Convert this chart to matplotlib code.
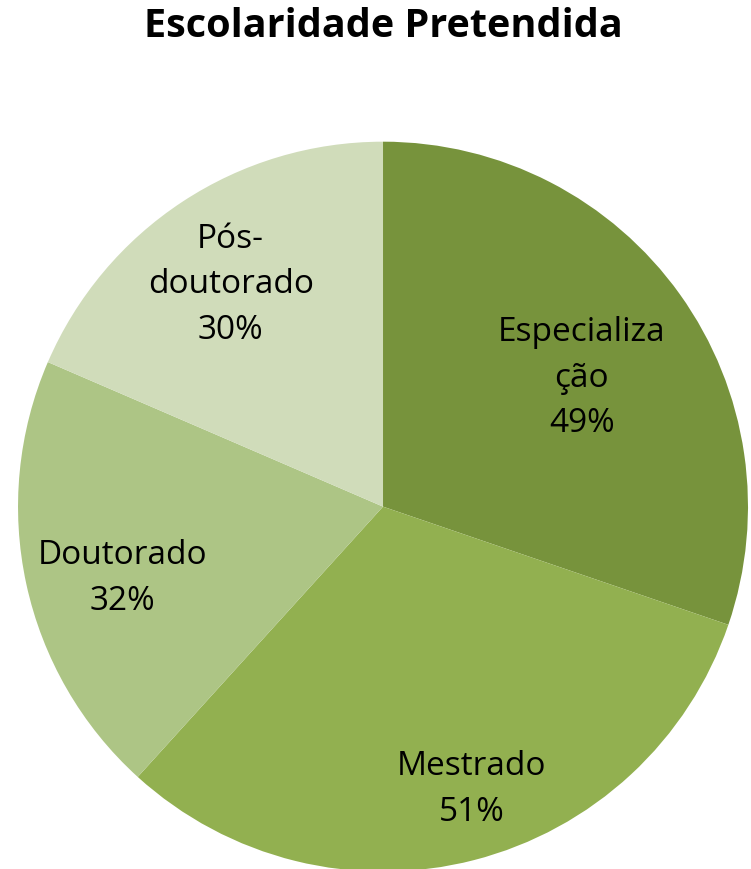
import matplotlib
matplotlib.use("Agg")
import matplotlib.pyplot as plt
import numpy as np

categories = ['Especializa\nção', 'Mestrado', 'Doutorado', 'Pós-\ndoutorado']
values = [49, 51, 32, 30]
colors = ['#77933C', '#92B050', '#ADC585', '#D0DCBA']
# label placement: fraction of radius, angle tweak in degrees
label_r = [0.65, 0.81, 0.74, 0.74]
label_dtheta = [-2.5, 3, 3, 1]

plt.rcParams['font.family'] = ['Open Sans', 'DejaVu Sans']

fig = plt.figure(figsize=(7.51, 8.70), dpi=100)
ax = fig.add_axes([0.024, -0.003, 0.972, 0.839])

wedges, _ = ax.pie(values, colors=colors, startangle=90, counterclock=False,
                   radius=1, wedgeprops=dict(linewidth=0))
ax.set_xlim(-1, 1)
ax.set_ylim(-1, 1)
ax.set_aspect('auto')

for w, cat, v, r, dt in zip(wedges, categories, values, label_r, label_dtheta):
    mid = np.deg2rad((w.theta1 + w.theta2) / 2 + dt)
    ax.text(r * np.cos(mid), r * np.sin(mid), cat + '\n' + str(v) + '%',
            ha='center', va='center', fontsize=24, linespacing=1.5)

fig.text(0.51, 0.970, 'Escolaridade Pretendida', ha='center', va='center',
         fontsize=28.5, fontweight='bold')

fig.savefig('out.png', dpi=100)
